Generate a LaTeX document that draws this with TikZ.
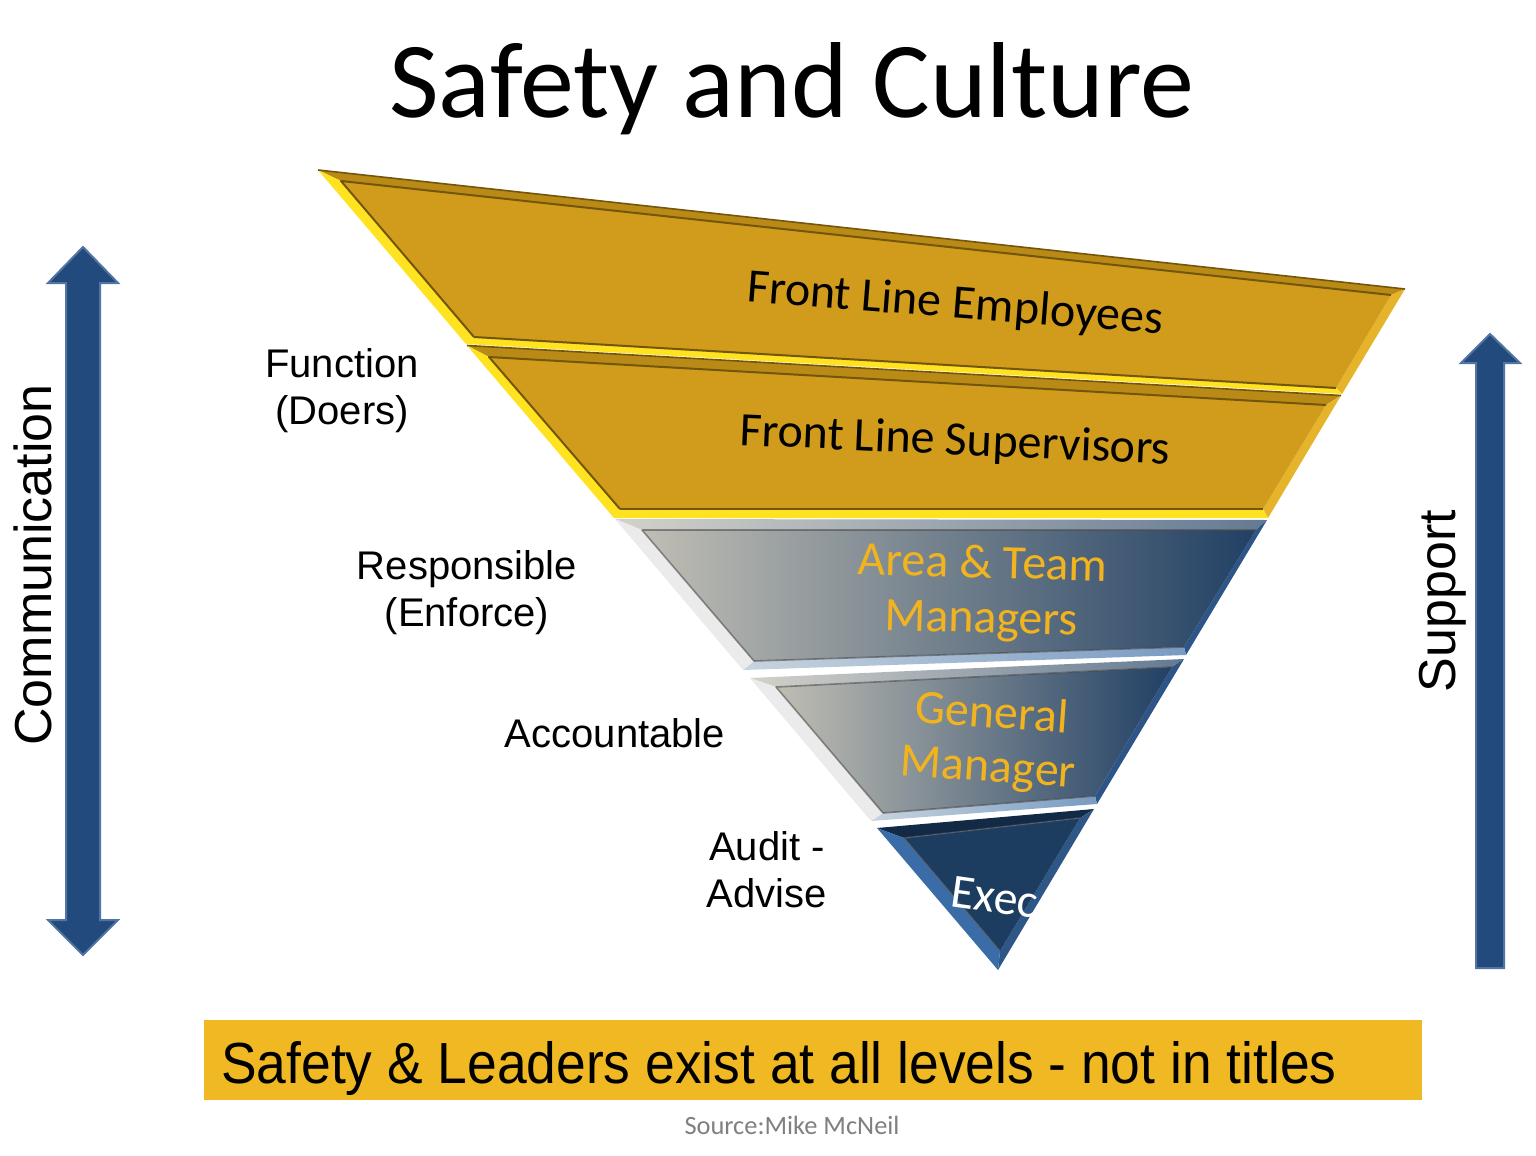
\documentclass[tikz,border=0pt]{standalone}
\usepackage{fontspec}
\setmainfont{Liberation Sans}
\newfontfamily\calfont{Carlito}
\usetikzlibrary{calc}
\definecolor{goldfill}{RGB}{209,155,27}
\definecolor{goldhi}{RGB}{255,226,32}
\definecolor{golddk}{RGB}{115,86,12}
\definecolor{goldtop}{RGB}{186,138,22}
\definecolor{goldrt}{RGB}{230,180,42}
\definecolor{grayL}{RGB}{192,190,180}
\definecolor{grayM}{RGB}{140,145,145}
\definecolor{grayR}{RGB}{33,64,100}
\definecolor{grayRt}{RGB}{45,85,135}
\definecolor{grayBl}{RGB}{200,212,222}
\definecolor{grayBr}{RGB}{120,155,195}
\definecolor{navyfill}{RGB}{28,60,96}
\definecolor{execedge}{RGB}{58,108,168}
\definecolor{execdk}{RGB}{18,42,70}
\definecolor{arrowblue}{RGB}{35,74,124}
\definecolor{arrowedge}{RGB}{82,116,164}
\definecolor{bandtext}{RGB}{242,180,30}
\definecolor{barfill}{RGB}{240,184,35}
\definecolor{srcgray}{RGB}{128,128,128}
\begin{document}
\begin{tikzpicture}[x=0.5pt,y=-0.5pt,
  bigarrow/.style={fill=arrowblue,draw=arrowedge,line width=1pt,line join=miter},
  lbl/.style={font=\fontsize{20}{23.5}\selectfont,align=center,inner sep=0pt},
  side/.style={font=\fontsize{26}{30}\selectfont,rotate=90,inner sep=0pt},
  bandlbl/.style={font=\calfont\fontsize{24}{27.5}\selectfont,align=center,inner sep=0pt},
  inneredge/.style={draw=golddk,line width=1pt,line join=round},
  grayedge/.style={draw=black!70,draw opacity=0.6,line width=0.8pt,line join=round}]
\useasboundingbox (0,0) rectangle (1536,1156);
\fill[white] (0,0) rectangle (1536,1156);

% title
\node[font=\calfont\fontsize{54}{60}\selectfont,anchor=base,inner sep=0pt] (title) at (792,118) {Safety and Culture};

% ---- band 1 : Front Line Employees
\fill[goldtop] (318,170) -- (1405,289) -- (1391,295) -- (341,181) -- cycle;
\fill[goldrt] (1405,289) -- (1342,394) -- (1336,388) -- (1391,295) -- cycle;
\fill[goldhi] (1342,394) -- (466,344) -- (474,337) -- (1336,388) -- cycle;
\fill[goldhi] (466,344) -- (318,170) -- (341,181) -- (474,337) -- cycle;
\fill[goldfill] (341,181) -- (1391,295) -- (1336,388) -- (474,337) -- cycle;
\draw[inneredge] (474,337) -- (341,181) -- (1391,295);
\draw[inneredge] (474,337) -- (1336,388);
\draw[golddk,line width=0.8pt] (318,170) -- (1405,289);
\node[bandlbl,rotate=-4.5] (fle) at (955,305) {Front Line Employees};

% ---- band 2 : Front Line Supervisors
\fill[goldtop] (467,345.5) -- (1341,395.5) -- (1326,405) -- (489,357) -- cycle;
\fill[goldrt] (1341,395.5) -- (1268,518) -- (1263,509) -- (1326,405) -- cycle;
\fill[goldhi] (1268,518) -- (614,518) -- (620,509) -- (1263,509) -- cycle;
\fill[goldhi] (614,518) -- (467,345.5) -- (489,357) -- (620,509) -- cycle;
\fill[goldfill] (489,357) -- (1326,405) -- (1263,509) -- (620,509) -- cycle;
\draw[inneredge] (620,509) -- (489,357) -- (1326,405);
\draw[inneredge] (620,509) -- (1263,509);
\draw[golddk,line width=0.8pt] (467,345.5) -- (1341,395.5);
\node[bandlbl,rotate=-2.5] (fls) at (955,442) {Front Line Supervisors};

% ---- band 3 : Area & Team Managers
\shade[left color=grayL!70!white,right color=grayR!70!white] (615,519) -- (1267,520) -- (1256,530) -- (642,530) -- cycle;
\fill[grayRt] (1267,520) -- (1186,655) -- (1184,647) -- (1256,530) -- cycle;
\shade[left color=grayBl,right color=grayBr] (1186,655) -- (743,670) -- (754,661) -- (1184,647) -- cycle;
\fill[white!92!black] (743,670) -- (615,519) -- (642,530) -- (754,661) -- cycle;
\shade[left color=grayL,middle color=grayM,right color=grayR] (642,530) -- (1256,530) -- (1184,647) -- (754,661) -- cycle;
\draw[grayedge] (754,661) -- (642,530) -- (1256,530);
\draw[grayedge] (754,661) -- (1184,647);
\node[bandlbl,text=bandtext,rotate=-1.5] (atm) at (982,593) {Area \& Team\\Managers};

% ---- band 4 : General Manager
\shade[left color=grayL!70!white,right color=grayR!70!white] (750,678) -- (1184,659) -- (1172,667) -- (776,687) -- cycle;
\fill[grayRt] (1184,659) -- (1097,804) -- (1095,796) -- (1172,667) -- cycle;
\shade[left color=grayBl,right color=grayBr] (1097,804) -- (871,821) -- (883,813) -- (1095,796) -- cycle;
\fill[white!92!black] (871,821) -- (750,678) -- (776,687) -- (883,813) -- cycle;
\shade[left color=grayL,middle color=grayL!60!grayM,right color=grayR] (776,687) -- (1172,667) -- (1095,796) -- (883,813) -- cycle;
\draw[grayedge] (883,813) -- (776,687) -- (1172,667);
\draw[grayedge] (883,813) -- (1095,796);
\node[bandlbl,text=bandtext,rotate=-4,font=\calfont\fontsize{24}{27}\selectfont] (gm) at (990,742) {General\\Manager};

% ---- band 5 : Exec
\fill[execdk] (877,828) -- (1094,809) -- (1080,818) -- (904,838) -- cycle;
\fill[execedge!80!black] (1094,809) -- (998,970) -- (1000,951) -- (1080,818) -- cycle;
\fill[execedge] (998,970) -- (877,828) -- (904,838) -- (1000,951) -- cycle;
\fill[navyfill] (904,838) -- (1080,818) -- (1000,951) -- cycle;
\draw[draw=black!60,draw opacity=0.5,line width=0.8pt,line join=round] (1000,951) -- (904,838) -- (1080,818);
\node[bandlbl,text=white,rotate=-8] (exec) at (995,897) {Exec};

% ---- side labels
\node[lbl] (func) at (342,391) {Function\\(Doers)};
\node[lbl] (resp) at (467,593) {Responsible\\(Enforce)};
\node[lbl] (acc) at (615,733) {Accountable};
\node[lbl] (aud) at (767,870) {Audit -\\Advise};

% ---- communication arrow
\filldraw[bigarrow] (83,247) -- (118,283) -- (100,283) -- (100,920) -- (118,920) -- (83,955)
  -- (48,920) -- (66,920) -- (66,283) -- (48,283) -- cycle;
\node[side] (comm) at (33,565) {Communication};

% ---- support arrow
\filldraw[bigarrow] (1490,334) -- (1520,363) -- (1504,363) -- (1504,968) -- (1476,968)
  -- (1476,363) -- (1461,363) -- cycle;
\node[side] (supp) at (1443,601) {Support};

% ---- bottom bar
\fill[barfill] (204,1020) rectangle (1422,1100);
\node[anchor=base west,inner sep=0pt,xscale=0.92,font=\fontsize{29}{32}\selectfont] (bar) at (221,1083)
  {Safety \& Leaders exist at all levels - not in titles};
\node[anchor=base,inner sep=0pt,text=srcgray,font=\calfont\fontsize{13.2}{15}\selectfont] (src) at (792,1134) {Source:Mike McNeil};
\end{tikzpicture}
\end{document}
